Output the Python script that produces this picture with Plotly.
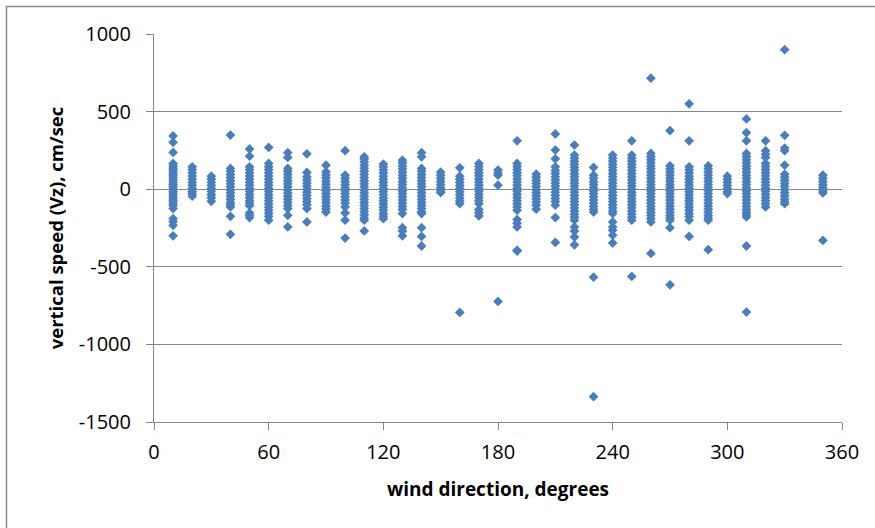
import plotly.graph_objects as go

# wind direction (degrees) -> vertical speed values (cm/sec)
d10 = [343, 302, 237, 166, 150, 135, 120, 105, 90, 75, 60, 45, 30, 15, 0, -15, -30, -45, -60, -75, -90, -105, -125, -190, -210, -233, -300]
d20 = [144, 125, 105, 85, 65, 45, 25, 5, -15, -30, -45]
d30 = [84, 65, 45, 25, 5, -15, -35, -55, -78]
d40 = [349, 134, 115, 95, 75, 55, 35, 15, -5, -25, -45, -65, -85, -100, -114, -175, -291]
d50 = [259, 213, 144, 125, 105, 85, 65, 45, 25, 5, -15, -35, -55, -75, -90, -106, -153, -168, -183]
d60 = [269, 166, 145, 125, 105, 85, 65, 45, 25, 5, -15, -35, -55, -75, -95, -115, -135, -155, -175, -200]
d70 = [235, 205, 134, 115, 95, 75, 55, 35, 15, -5, -25, -45, -65, -85, -105, -125, -168, -243]
d80 = [228, 108, 80, 60, 40, 20, 0, -20, -40, -60, -80, -100, -125, -211]
d90 = [155, 112, 92, 72, 52, 32, 12, -8, -28, -48, -68, -88, -108, -128, -147]
d100 = [248, 90, 70, 50, 30, 10, -10, -30, -50, -70, -90, -114, -153, -200, -315]
d110 = [209, 195, 175, 155, 135, 115, 95, 75, 55, 35, 15, -5, -25, -45, -65, -85, -105, -125, -145, -165, -185, -200, -269]
d120 = [162, 144, 124, 104, 84, 64, 44, 24, 4, -16, -36, -56, -76, -96, -116, -136, -156, -175, -190]
d130 = [187, 170, 150, 130, 110, 90, 70, 50, 30, 10, -10, -30, -50, -70, -90, -110, -130, -157, -248, -270, -300]
d140 = [235, 209, 134, 115, 95, 75, 55, 35, 15, -5, -25, -45, -65, -85, -105, -125, -145, -157, -248, -304, -366]
d150 = [110, 90, 70, 50, 30, 10, -10, -22]
d160 = [138, 84, 64, 44, 24, 4, -16, -36, -56, -76, -93, -794]
d170 = [166, 146, 126, 106, 86, 66, 46, 26, 6, -14, -34, -54, -74, -93, -131, -150, -172]
d180 = [123, 105, 90, 26, -723]
d190 = [312, 166, 146, 126, 106, 86, 66, 46, 26, 6, -14, -34, -54, -74, -94, -114, -136, -196, -220, -243, -394, -399]
d200 = [97, 77, 57, 37, 17, -3, -23, -43, -63, -83, -103, -129]
d210 = [356, 252, 196, 144, 120, 101, 80, 60, 40, 20, 0, -20, -40, -60, -80, -103, -183, -343]
d220 = [284, 220, 200, 180, 160, 140, 120, 100, 80, 60, 40, 20, 0, -20, -40, -60, -80, -100, -120, -140, -160, -180, -200, -243, -270, -308, -358]
d230 = [140, 90, 70, 50, 30, 10, -10, -30, -50, -70, -90, -110, -130, -147, -567, -1337]
d240 = [220, 200, 180, 160, 140, 120, 100, 80, 60, 40, 20, 0, -20, -40, -60, -80, -100, -120, -140, -157, -211, -243, -265, -297, -347]
d250 = [312, 220, 200, 180, 160, 140, 120, 100, 80, 60, 40, 20, 0, -20, -40, -60, -80, -100, -120, -140, -160, -180, -200, -562]
d260 = [715, 230, 210, 190, 170, 150, 130, 110, 90, 70, 50, 30, 10, -10, -30, -50, -70, -90, -110, -130, -150, -170, -190, -211, -414]
d270 = [377, 151, 131, 111, 91, 71, 51, 31, 11, -9, -29, -49, -69, -89, -109, -129, -149, -169, -185, -200, -248, -616]
d280 = [550, 312, 144, 124, 104, 84, 64, 44, 24, 4, -16, -36, -56, -76, -96, -116, -136, -156, -176, -200, -304]
d290 = [151, 131, 111, 91, 71, 51, 31, 11, -9, -29, -49, -69, -89, -109, -129, -149, -169, -185, -200, -390]
d300 = [84, 64, 44, 24, 4, -16, -28]
d310 = [453, 364, 312, 230, 210, 190, 170, 150, 130, 110, 90, 70, 50, 30, 10, -10, -30, -50, -70, -90, -110, -130, -150, -165, -179, -366, -792]
d320 = [312, 248, 225, 205, 166, 146, 126, 106, 86, 66, 46, 26, 6, -14, -34, -54, -74, -94, -114]
d330 = [899, 347, 265, 248, 155, 97, 77, 57, 37, 17, -3, -23, -43, -63, -80, -93]
d350 = [90, 70, 50, 30, 10, -10, -24, -330]

directions = [10, 20, 30, 40, 50, 60, 70, 80, 90, 100, 110, 120, 130, 140, 150, 160, 170, 180,
              190, 200, 210, 220, 230, 240, 250, 260, 270, 280, 290, 300, 310, 320, 330, 350]
columns = [d10, d20, d30, d40, d50, d60, d70, d80, d90, d100, d110, d120, d130, d140, d150, d160, d170, d180,
           d190, d200, d210, d220, d230, d240, d250, d260, d270, d280, d290, d300, d310, d320, d330, d350]

x_ticks = [0, 60, 120, 180, 240, 300, 360]
y_ticks = [1000, 500, 0, -500, -1000, -1500]
y_tick_labels = ["1000", "500", "0", "-500", "-1000", "-1500"]

xs, ys = [], []
for d, col in zip(directions, columns):
    for v in col:
        xs.append(d)
        ys.append(v)

fig = go.Figure(go.Scatter(
    x=xs, y=ys, mode="markers",
    marker=dict(symbol="diamond", size=7.5, color="#4A7EBB", line=dict(width=0)),
    showlegend=False,
))

FONT = "Open Sans"
GRID = "#878787"

fig.update_layout(
    width=875, height=528,
    margin=dict(l=154, r=33, t=34, b=106, autoexpand=False),
    paper_bgcolor="white", plot_bgcolor="white",
    font=dict(family=FONT, color="black", size=20),
    xaxis=dict(
        range=[0, 360], tickvals=x_ticks, ticks="outside", ticklen=7, tickcolor=GRID,
        showline=True, linecolor=GRID, linewidth=1, showgrid=False, zeroline=False,
        tickfont=dict(size=20), ticklabelstandoff=5,
        title=dict(text="<b>wind direction, degrees</b>", font=dict(size=19), standoff=18),
    ),
    yaxis=dict(
        range=[-1500, 1000], tickvals=y_ticks, ticktext=y_tick_labels,
        ticks="outside", ticklen=7, tickcolor=GRID,
        showline=True, linecolor=GRID, linewidth=1, showgrid=True, gridcolor=GRID, gridwidth=1,
        zeroline=False, tickfont=dict(size=20), ticklabelstandoff=11,
        title=dict(text="<b>vertical speed (Vz), cm/sec</b>", font=dict(size=18.5), standoff=10),
    ),
    shapes=[dict(type="rect", xref="paper", yref="paper",
                 x0=(6.5 - 154) / 688, x1=(890 - 154) / 688,
                 y0=(422 - 540) / 388, y1=(422 - 6.5) / 388,
                 line=dict(color="#8c8c8c", width=1.5), fillcolor="rgba(0,0,0,0)", layer="below")],
)

fig.write_html(
    "out.html",
    config={"displayModeBar": False},
    post_script="document.body.style.margin='0';document.body.style.overflow='hidden';",
)
